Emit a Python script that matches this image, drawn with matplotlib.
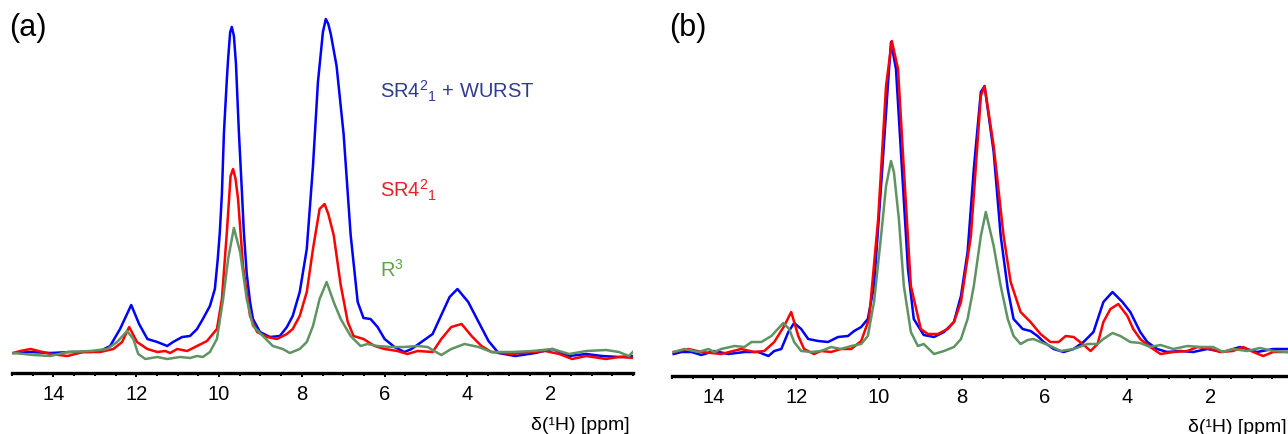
import matplotlib
matplotlib.use('Agg')
import matplotlib.pyplot as plt
from matplotlib.ticker import MultipleLocator

plt.rcParams['font.family'] = ['Liberation Sans', 'DejaVu Sans']
plt.rcParams['mathtext.fontset'] = 'custom'
plt.rcParams['mathtext.rm'] = 'Liberation Sans'

# ---- panel (a) ----
ppm_a_blue = [14.96, 14.55, 14.07, 13.59, 13.11, 12.87, 12.63, 12.39, 12.12, 11.93, 11.73, 11.49,
              11.25, 11.11, 10.89, 10.70, 10.53, 10.39, 10.22, 10.10, 10.03, 9.98, 9.93, 9.88, 9.81,
              9.78, 9.73, 9.69, 9.64, 9.59, 9.52, 9.45, 9.40, 9.33, 9.25, 9.18, 9.01, 8.77, 8.53,
              8.36, 8.22, 8.05, 7.88, 7.73, 7.61, 7.49, 7.42, 7.36, 7.30, 7.16, 6.99, 6.82, 6.65,
              6.51, 6.34, 6.17, 6.00, 5.76, 5.52, 5.35, 5.11, 4.84, 4.63, 4.43, 4.24, 3.98, 3.73,
              3.49, 3.25, 2.84, 2.36, 1.95, 1.54, 1.13, 0.75, 0.34, -0.05]
int_a_blue = [1, 2, 1, 2, 2, 3, 8, 25, 49, 30, 15, 12,
              8, 12, 17, 18, 25, 35, 48, 65, 95, 122, 160, 222, 275,
              295, 322, 327, 318, 290, 222, 165, 122, 80, 52, 35, 22, 17, 18,
              27, 38, 62, 105, 188, 272, 322, 335, 330, 320, 288, 220, 119, 52,
              36, 35, 27, 15, 7, 2, 5, 12, 20, 39, 57, 65, 52, 32,
              13, 1, -2, 1, 5, -2, 0, -2, -3, -2]

ppm_a_red = [14.96, 14.80, 14.55, 14.07, 13.66, 13.28, 12.87, 12.55, 12.34, 12.17, 11.98, 11.73,
             11.49, 11.30, 11.18, 11.01, 10.77, 10.53, 10.29, 10.05, 9.93, 9.81, 9.72, 9.66, 9.60,
             9.54, 9.42, 9.25, 9.08, 8.84, 8.60, 8.36, 8.22, 8.05, 7.88, 7.73, 7.57, 7.45, 7.36,
             7.23, 7.06, 6.89, 6.75, 6.51, 6.24, 6.00, 5.69, 5.45, 5.20, 4.84, 4.63, 4.39, 4.14,
             3.90, 3.66, 3.42, 2.92, 2.43, 2.12, 1.78, 1.47, 1.13, 0.65, 0.34, -0.05]
int_a_red = [1, 3, 5, 0, -2, 2, 2, 5, 12, 27, 12, 5,
             2, 3, 1, 5, 3, 8, 13, 25, 55, 122, 178, 185, 175,
             155, 88, 38, 22, 17, 15, 20, 25, 38, 62, 105, 145, 150, 140,
             119, 69, 32, 18, 15, 8, 5, 3, 0, 3, 2, 15, 27, 30,
             18, 8, 2, 0, 2, 3, 0, -5, -2, -5, -3, -4]

ppm_a_green = [14.96, 14.48, 14.07, 13.66, 13.11, 12.70, 12.46, 12.22, 12.07, 11.95, 11.78, 11.49,
               11.25, 10.94, 10.70, 10.53, 10.39, 10.22, 10.05, 9.90, 9.78, 9.64, 9.49, 9.33, 9.18,
               8.94, 8.70, 8.46, 8.29, 8.05, 7.88, 7.73, 7.57, 7.40, 7.23, 7.06, 6.82, 6.58, 6.41,
               6.17, 5.86, 5.52, 5.20, 4.96, 4.80, 4.63, 4.39, 4.07, 3.73, 3.42, 2.92, 2.43, 1.95,
               1.54, 1.13, 0.65, 0.34, 0.10, -0.02]
int_a_green = [1, -1, -2, 2, 3, 5, 12, 23, 15, 0, -5, -3,
               -5, -3, -4, -2, -3, 2, 15, 55, 95, 126, 102, 55, 28,
               18, 8, 5, 1, 5, 12, 28, 55, 72, 52, 35, 18, 8, 10,
               8, 7, 7, 8, 7, 3, -1, 5, 10, 7, 2, 2, 3, 5,
               0, 3, 4, 2, -2, 3]

# ---- panel (b) ----
ppm_b_blue = [14.96, 14.77, 14.53, 14.29, 13.98, 13.64, 13.25, 12.92, 12.67, 12.53, 12.36, 12.19,
              12.05, 11.88, 11.71, 11.47, 11.23, 10.99, 10.75, 10.60, 10.43, 10.27, 10.12, 9.95,
              9.78, 9.71, 9.59, 9.47, 9.30, 9.16, 8.92, 8.67, 8.43, 8.19, 8.02, 7.86, 7.71, 7.54,
              7.45, 7.23, 7.06, 6.89, 6.75, 6.53, 6.34, 6.17, 6.02, 5.78, 5.54, 5.30, 5.06, 4.82,
              4.58, 4.36, 4.12, 3.93, 3.69, 3.52, 3.28, 3.04, 2.72, 2.41, 2.07, 1.69, 1.28, 0.87,
              0.48, 0.14]
int_b_blue = [0, 2, 2, -1, 3, 0, 2, 2, -2, 3, 5, 22,
              31, 25, 15, 13, 12, 17, 18, 23, 27, 35, 68, 168,
              272, 312, 285, 202, 85, 35, 19, 17, 22, 32, 58, 102, 185, 262,
              268, 202, 118, 65, 35, 25, 23, 18, 12, 5, 2, 5, 12, 22,
              52, 62, 52, 42, 22, 12, 5, 2, 3, 2, 5, 2, 7, 2,
              5, 5]

ppm_b_red = [14.96, 14.60, 14.29, 13.81, 13.33, 13.01, 12.77, 12.53, 12.29, 12.12, 11.95, 11.81,
             11.57, 11.40, 11.16, 10.92, 10.67, 10.43, 10.24, 10.02, 9.83, 9.69, 9.54, 9.40,
             9.23, 8.99, 8.82, 8.58, 8.34, 8.19, 8.02, 7.78, 7.54, 7.45, 7.23, 6.99, 6.82, 6.58,
             6.34, 6.10, 5.86, 5.66, 5.49, 5.30, 5.08, 4.89, 4.72, 4.58, 4.41, 4.22, 4.00, 3.86,
             3.69, 3.45, 3.20, 2.89, 2.55, 2.31, 2.00, 1.76, 1.45, 1.20, 0.96, 0.72, 0.48, 0.14]
int_b_red = [2, 5, 2, 0, 5, 2, 3, 12, 28, 42, 18, 5,
             0, 3, 2, 5, 5, 13, 35, 135, 268, 313, 285, 185,
             68, 25, 20, 20, 25, 32, 52, 118, 258, 268, 208, 118, 72, 42,
             32, 20, 12, 12, 18, 17, 10, 3, 10, 32, 45, 50, 38, 25,
             15, 7, 0, 2, 3, 7, 5, 2, 3, 7, 2, -2, 2, 2]

ppm_b_green = [14.96, 14.70, 14.36, 14.12, 13.98, 13.81, 13.49, 13.25, 13.08, 12.84, 12.60, 12.31,
               12.17, 12.05, 11.88, 11.64, 11.40, 11.16, 10.92, 10.67, 10.43, 10.27, 10.12, 9.95,
               9.83, 9.71, 9.64, 9.52, 9.40, 9.23, 9.06, 8.92, 8.67, 8.43, 8.19, 8.02, 7.86, 7.71,
               7.54, 7.42, 7.23, 7.06, 6.89, 6.75, 6.58, 6.41, 6.27, 6.10, 5.86, 5.61, 5.30, 4.96,
               4.72, 4.58, 4.36, 4.17, 3.93, 3.69, 3.45, 3.20, 2.89, 2.55, 2.24, 1.93, 1.69, 1.45,
               1.11, 0.80, 0.48, 0.14]
int_b_green = [2, 5, 2, 5, 2, 5, 8, 7, 12, 12, 18, 31,
               25, 12, 3, 2, 3, 7, 5, 8, 10, 18, 52, 118,
               168, 193, 182, 135, 68, 22, 8, 10, 0, 3, 7, 15, 35, 68,
               118, 142, 108, 68, 35, 18, 10, 14, 15, 12, 8, 3, 5, 10,
               10, 15, 21, 18, 12, 11, 7, 9, 5, 8, 7, 7, 2, 5,
               3, 6, 3, 2]

series_names = ['SR4$^{2}{}_{1}$ + WURST', 'SR4$^{2}{}_{1}$', 'R$^{3}$']
line_colors = ['#0000ff', '#ff0000', '#5f9462']
label_colors = ['#2e3d8f', '#e8202a', '#5aa845']
tick_values = [14, 12, 10, 8, 6, 4, 2]


def style_axis(ax, ylow):
    ax.set_xlim(15, 0)
    ax.set_ylim(ylow, 355)
    for side in ['top', 'left', 'right']:
        ax.spines[side].set_visible(False)
    ax.spines['bottom'].set_linewidth(2.4)
    ax.set_yticks([])
    ax.set_xticks(tick_values)
    ax.xaxis.set_minor_locator(MultipleLocator(0.5))
    ax.tick_params(axis='x', which='major', direction='out', length=3.2, width=1.4,
                   labelsize=14.5, pad=5)
    ax.tick_params(axis='x', which='minor', direction='out', length=2.0, width=1.4)
    ax.patch.set_alpha(0)


W, H = 1288, 435
fig = plt.figure(figsize=(W / 100, H / 100), dpi=100)

ax_a = fig.add_axes([12 / W, (H - 374) / H, 621 / W, 374 / H])
ax_b = fig.add_axes([672 / W, (H - 377) / H, 621 / W, 377 / H])

ax_a.plot(ppm_a_blue, int_a_blue, color=line_colors[0], lw=1.8)
ax_a.plot(ppm_a_red, int_a_red, color=line_colors[1], lw=1.8)
ax_a.plot(ppm_a_green, int_a_green, color=line_colors[2], lw=1.8)

ax_b.plot(ppm_b_blue, int_b_blue, color=line_colors[0], lw=1.8)
ax_b.plot(ppm_b_red, int_b_red, color=line_colors[1], lw=1.8)
ax_b.plot(ppm_b_green, int_b_green, color=line_colors[2], lw=1.8)

style_axis(ax_a, -19)
style_axis(ax_b, -22)

# labels for the three sequences in panel (a)
for name, col, yb in zip(series_names, label_colors, [257, 157, 78]):
    ax_a.text(6.10, yb, name, color=col, fontsize=14.5, ha='left', va='baseline')

fig.text(9 / W, 1 - 13 / H, '(a)', fontsize=22, ha='left', va='top')
fig.text(669 / W, 1 - 13 / H, '(b)', fontsize=22, ha='left', va='top')

fig.text(630 / W, 1 - 430 / H, 'δ(¹H) [ppm]', fontsize=14, ha='right', va='baseline')
fig.text(1287 / W, 1 - 432 / H, 'δ(¹H) [ppm]', fontsize=14, ha='right', va='baseline')

fig.savefig('out.png', dpi=100)
